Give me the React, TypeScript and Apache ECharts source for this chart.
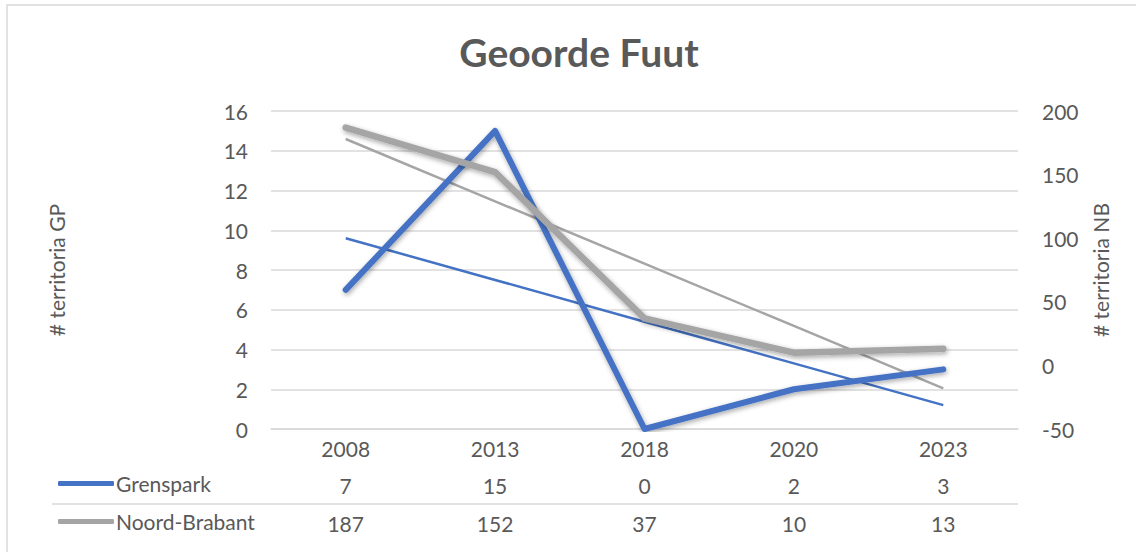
import React, { useEffect, useRef } from "react";
import * as echarts from "echarts";

const years = ["2008", "2013", "2018", "2020", "2023"];
const grenspark = [7, 15, 0, 2, 3];
const noordBrabant = [187, 152, 37, 10, 13];
// linear trendlines
const grensparkTrend = [9.6, 7.5, 5.4, 3.3, 1.2];
const noordBrabantTrend = [178, 129, 80, 31, -18];

const BLUE = "#4472C4";
const GRAY = "#A5A5A5";
const TEXT = "#595959";
const GRID = "#D9D9D9";
const FONT = "Lato, 'Noto Sans', sans-serif";

export default function App() {
  const ref = useRef<HTMLDivElement>(null);
  useEffect(() => {
    if (!ref.current) return;
    const chart = echarts.init(ref.current, null, { renderer: "svg" });
    const gridLeft = 271;
    const gridRight = 1018;
    const gridTop = 111;
    const gridBottom = 429;
    const tableAxis = (vals: number[], margin: number) => ({
      type: "category",
      gridIndex: 0,
      position: "bottom",
      data: vals.map(String),
      boundaryGap: true,
      axisLine: { show: false },
      axisTick: { show: false },
      splitLine: { show: false },
      axisLabel: {
        margin,
        verticalAlign: "middle",
        color: TEXT,
        fontSize: 21,
        fontFamily: FONT,
        interval: 0,
      },
    });
    chart.setOption({
      animation: false,
      backgroundColor: "#fff",
      textStyle: { fontFamily: FONT },
      title: {
        text: "Geoorde Fuut",
        left: 574,
        top: 27,
        textAlign: "center",
        textStyle: { fontSize: 39, fontWeight: "bold", color: TEXT, fontFamily: FONT },
      },
      legend: {
        orient: "vertical",
        left: 53,
        top: 468,
        itemWidth: 56,
        itemHeight: 5,
        itemGap: 17,
        icon: "roundRect",
        data: ["Grenspark", "Noord-Brabant"],
        textStyle: { color: TEXT, fontSize: 21, fontFamily: FONT, padding: [0, 0, 0, -3] },
      },
      grid: {
        left: gridLeft,
        right: 1136 - gridRight,
        top: gridTop,
        bottom: 552 - gridBottom,
        containLabel: false,
      },
      xAxis: [
        {
          type: "category",
          data: years,
          boundaryGap: true,
          axisLine: { lineStyle: { color: GRID, width: 1.5 } },
          axisTick: { show: false },
          axisLabel: {
            margin: 19,
            verticalAlign: "middle",
            color: TEXT,
            fontSize: 21,
            fontFamily: FONT,
          },
        },
        tableAxis(grenspark, 56),
        tableAxis(noordBrabant, 94),
      ],
      yAxis: [
        {
          type: "value",
          min: 0,
          max: 16,
          interval: 2,
          axisLine: { show: false },
          axisTick: { show: false },
          splitLine: { lineStyle: { color: GRID, width: 1.5 } },
          axisLabel: { margin: 23, color: TEXT, fontSize: 21, fontFamily: FONT },
        },
        {
          type: "value",
          min: -50,
          max: 200,
          interval: 50,
          position: "right",
          axisLine: { show: false },
          axisTick: { show: false },
          splitLine: { show: false },
          axisLabel: { margin: 24, color: TEXT, fontSize: 21, fontFamily: FONT },
        },
      ],
      graphic: [
        {
          type: "rect",
          silent: true,
          shape: { x: 7, y: 5, width: 1140, height: 560 },
          style: { fill: "none", stroke: GRID, lineWidth: 1.5 },
        },
        {
          type: "line",
          silent: true,
          shape: { x1: 52, y1: 504, x2: gridRight, y2: 504 },
          style: { stroke: GRID, lineWidth: 1.5 },
        },
        {
          type: "text",
          x: 56,
          y: 270,
          rotation: Math.PI / 2,
          style: {
            text: "# territoria GP",
            align: "center",
            verticalAlign: "middle",
            fill: TEXT,
            fontSize: 21,
            fontFamily: FONT,
          },
        },
        {
          type: "text",
          x: 1100,
          y: 270,
          rotation: Math.PI / 2,
          style: {
            text: "# territoria NB",
            align: "center",
            verticalAlign: "middle",
            fill: TEXT,
            fontSize: 21,
            fontFamily: FONT,
          },
        },
      ],
      series: [
        {
          name: "Trend Grenspark",
          type: "line",
          xAxisIndex: 0,
          yAxisIndex: 0,
          data: grensparkTrend,
          showSymbol: false,
          symbol: "none",
          lineStyle: { color: BLUE, width: 2.5 },
          itemStyle: { color: BLUE },
          z: 2,
        },
        {
          name: "Trend Noord-Brabant",
          type: "line",
          xAxisIndex: 0,
          yAxisIndex: 1,
          data: noordBrabantTrend,
          showSymbol: false,
          symbol: "none",
          lineStyle: { color: GRAY, width: 2.5 },
          itemStyle: { color: GRAY },
          z: 2,
        },
        {
          name: "Grenspark",
          type: "line",
          xAxisIndex: 0,
          yAxisIndex: 0,
          data: grenspark,
          showSymbol: false,
          symbol: "none",
          lineStyle: {
            color: BLUE,
            width: 6,
            cap: "round",
            join: "round",
            shadowBlur: 5,
            shadowColor: "rgba(0,0,0,0.35)",
            shadowOffsetX: 1,
            shadowOffsetY: 2,
          },
          itemStyle: { color: BLUE },
          z: 3,
        },
        {
          name: "Noord-Brabant",
          type: "line",
          xAxisIndex: 0,
          yAxisIndex: 1,
          data: noordBrabant,
          showSymbol: false,
          symbol: "none",
          lineStyle: {
            color: GRAY,
            width: 6.5,
            cap: "round",
            join: "round",
            shadowBlur: 5,
            shadowColor: "rgba(0,0,0,0.35)",
            shadowOffsetX: 1,
            shadowOffsetY: 2,
          },
          itemStyle: { color: GRAY },
          z: 4,
        },
      ],
    });
    return () => chart.dispose();
  }, []);
  return (
    <div
      ref={ref}
      style={{ position: "fixed", left: 0, top: 0, width: 1136, height: 552, background: "#fff" }}
    />
  );
}
